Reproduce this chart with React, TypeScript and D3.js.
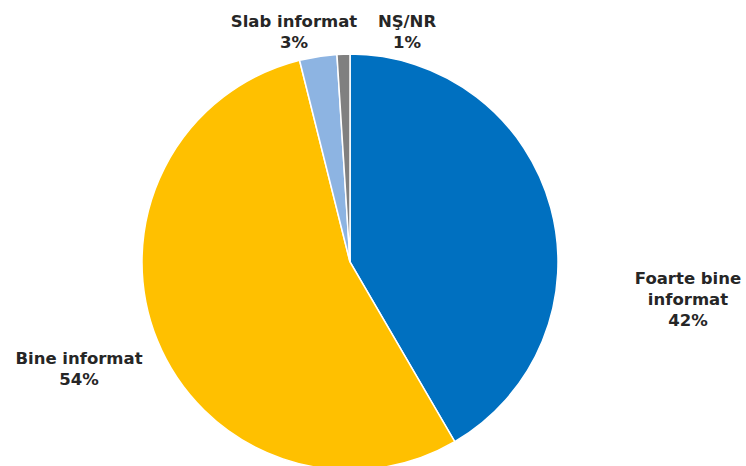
import * as d3 from 'd3'

// categories and values (percent), clockwise from 12 o'clock
const categories = ['Foarte bine informat', 'Bine informat', 'Slab informat', 'NŞ/NR']
const values = [41.6, 54.5, 2.9, 1.0]
const percentLabels = ['42%', '54%', '3%', '1%']
const colors = ['#0070C0', '#FFC000', '#8DB4E2', '#808080']

// label text lines per slice
const labelLines = [['Foarte bine', 'informat'], ['Bine informat'], ['Slab informat'], ['NŞ/NR']]
// label block positions (centre x, first baseline y)
const labelPos = [[688, 284], [79, 364], [294, 27], [407, 27]]

const W = 746
const H = 466
const cx = 350
const cy = 262
const R = 208

const App = () => {
  const pie = d3.pie<number>().sort(null).value(d => d)
  const arcs = pie(values)
  const arc = d3.arc<d3.PieArcDatum<number>>().innerRadius(0).outerRadius(R)

  return (
    <svg width={W} height={H} style={{ position: 'absolute', left: 0, top: 0, background: '#fff' }}>
      <g transform={`translate(${cx},${cy})`}>
        {arcs.map((a, i) => (
          <path key={categories[i]} d={arc(a) ?? ''} fill={colors[i]} stroke="#fff" strokeWidth={1.5} />
        ))}
      </g>
      {labelLines.map((lines, i) => (
        <text
          key={categories[i]}
          x={labelPos[i][0]}
          y={labelPos[i][1]}
          textAnchor="middle"
          fontFamily="'DejaVu Sans', sans-serif"
          fontWeight="bold"
          fontSize={16.5}
          fill="#262626"
        >
          {[...lines, percentLabels[i]].map((t, j) => (
            <tspan key={j} x={labelPos[i][0]} dy={j === 0 ? 0 : 21}>{t}</tspan>
          ))}
        </text>
      ))}
    </svg>
  )
}

export default App
